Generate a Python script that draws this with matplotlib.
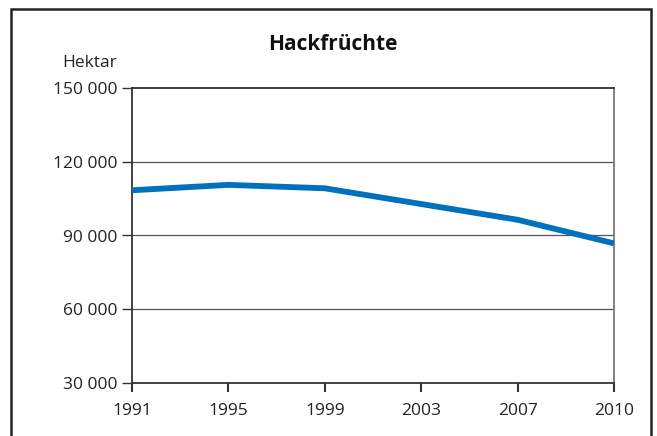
import matplotlib.pyplot as plt
from matplotlib.patches import Rectangle
from matplotlib.ticker import FuncFormatter

years = ['1991', '1995', '1999', '2003', '2007', '2010']
hektar = [108400, 110600, 109200, 102800, 96400, 86800]
yticks = [30000, 60000, 90000, 120000, 150000]

plt.rcParams['font.family'] = ['Open Sans', 'DejaVu Sans']

fig = plt.figure(figsize=(6.57, 4.36), dpi=100)
ax = fig.add_axes([132 / 657, 1 - 383 / 436, 482 / 657, 295 / 436])

x = list(range(len(years)))
ax.plot(x, hektar, color='#0071bc', linewidth=4.2, solid_capstyle='butt', zorder=3)

ax.set_xlim(0, len(years) - 1)
ax.set_ylim(30000, 150000)
ax.set_xticks(x)
ax.set_xticklabels(years)
ax.set_yticks(yticks)
ax.yaxis.set_major_formatter(FuncFormatter(lambda v, p: f'{int(v):,}'.replace(',', ' ')))
ax.tick_params(axis='y', length=7.2, width=1, color='#333333', labelsize=12.5, pad=3.5, labelcolor='#222222')
ax.tick_params(axis='x', length=6.5, width=1.5, color='#333333', labelsize=12.5, pad=8, labelcolor='#222222')

for y in yticks[1:-1]:
    ax.axhline(y, color='#555555', linewidth=0.9, zorder=1)

for s in ['left', 'bottom', 'top']:
    ax.spines[s].set_color('#333333')
    ax.spines[s].set_linewidth(1.3)
ax.spines['right'].set_color('#777777')
ax.spines['right'].set_linewidth(1.3)

fig.text(333 / 657, 1 - 44 / 436, 'Hackfrüchte', ha='center', va='center',
         fontsize=15, fontweight='bold', color='#111111')
fig.text(117 / 657, 1 - 63 / 436, 'Hektar', ha='right', va='center',
         fontsize=12.5, color='#222222')

fig.patches.append(Rectangle((11 / 657, -0.05), 640 / 657, 1.05 - 9 / 436,
                             transform=fig.transFigure, fill=False,
                             edgecolor='#222222', linewidth=1.8, clip_on=False))

plt.savefig('out.png', dpi=100)
